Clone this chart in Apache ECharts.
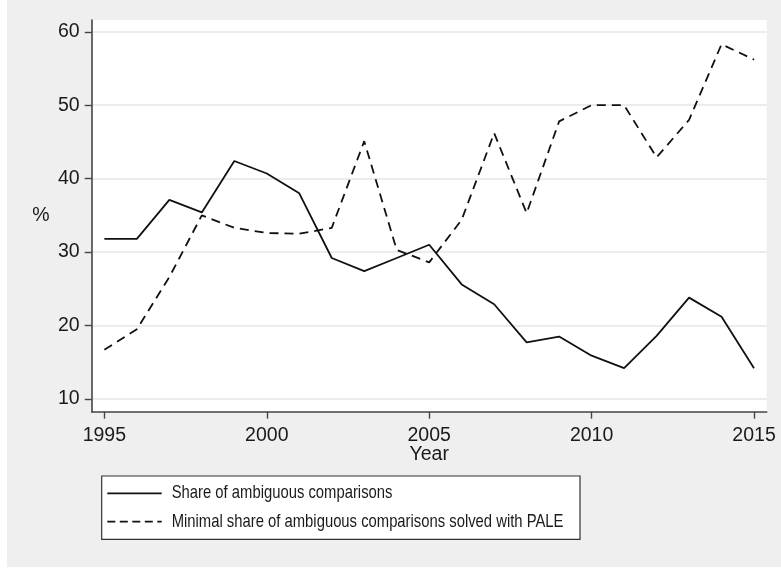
<!DOCTYPE html>
<html>
<head>
<meta charset="utf-8">
<script src="https://cdn.jsdelivr.net/npm/echarts@6/dist/echarts.min.js"></script>
<style>
  html, body { margin: 0; padding: 0; background: #fff; }
  #chart {
    width: 781px; height: 568px;
    background: linear-gradient(#efefef, #efefef) 7px 0 / 774px 567px no-repeat, #fff;
  }
</style>
</head>
<body>
<div id="chart"></div>
<script>
// Survey years
const years = [1995, 1996, 1997, 1998, 1999, 2000, 2001, 2002, 2003, 2004, 2005,
               2006, 2007, 2008, 2009, 2010, 2011, 2012, 2013, 2014, 2015];

// Share of ambiguous comparisons (%)
const shareAmbiguous = [31.8, 31.8, 37.1, 35.4, 42.4, 40.7, 38.0, 29.2, 27.4, 29.2, 31.0,
                        25.6, 22.9, 17.7, 18.5, 15.9, 14.2, 18.6, 23.8, 21.2, 14.2];

// Minimal share of ambiguous comparisons solved with PALE (%)
const shareSolvedPALE = [16.7, 19.5, 26.6, 35.0, 33.3, 32.6, 32.5, 33.3, 45.1, 30.3, 28.6,
                         34.4, 46.2, 35.3, 47.8, 50.0, 50.0, 42.9, 48.0, 58.3, 56.2];

// Tick labels
const xTicks = [1995, 2000, 2005, 2010, 2015];
const yTicks = [10, 20, 30, 40, 50, 60];

const seriesNames = [
  'Share of ambiguous comparisons',
  'Minimal share of ambiguous comparisons solved with PALE'
];

const pairs = vals => years.map((y, i) => [y, vals[i]]);

const lineColor = '#111';
const axisColor = '#444';
const textColor = '#1a1a1a';
const axisFont = { fontFamily: 'Liberation Sans, Arial, sans-serif', fontSize: 19.5, color: textColor };
const plotDash = [9, 6];
const keyDash = [8, 4.5];

// Legend key: boxed, two rows, narrow type face (condensed horizontally)
const keyFont = '18.5px "Liberation Sans", Arial, sans-serif';
const keyScale = 0.801;
function keyRow(y, name, dash) {
  return [
    {
      type: 'line',
      shape: { x1: 5.6, y1: y, x2: 60, y2: y },
      style: { stroke: lineColor, lineWidth: 1.8, lineDash: dash }
    },
    {
      type: 'text',
      x: 70, y: y, scaleX: keyScale,
      style: { text: name, font: keyFont, fill: textColor, verticalAlign: 'middle', align: 'left' }
    }
  ];
}

const chart = echarts.init(document.getElementById('chart'), null, { renderer: 'canvas' });

chart.setOption({
  backgroundColor: 'transparent',
  animation: false,
  grid: {
    left: 91.7, top: 20, right: 14.3, bottom: 156.3,
    show: true, backgroundColor: '#fff', borderWidth: 0
  },
  xAxis: {
    type: 'value',
    min: 1994.61, max: 2015.39,
    name: 'Year',
    nameLocation: 'middle',
    nameGap: 33,
    nameMoveOverlap: false,
    nameTextStyle: axisFont,
    axisLine: { show: true, onZero: false, lineStyle: { color: axisColor, width: 1.6 } },
    axisTick: { show: true, length: 7, customValues: xTicks, lineStyle: { color: axisColor, width: 1.4 } },
    axisLabel: Object.assign({ customValues: xTicks, margin: 14, formatter: v => String(v) }, axisFont),
    splitLine: { show: false }
  },
  yAxis: {
    type: 'value',
    min: 8.27, max: 61.6,
    name: '%',
    nameLocation: 'middle',
    nameRotate: 0,
    nameGap: 42,
    nameMoveOverlap: false,
    nameTextStyle: axisFont,
    axisLine: { show: true, onZero: false, lineStyle: { color: axisColor, width: 1.6 } },
    axisTick: { show: true, length: 7, customValues: yTicks, lineStyle: { color: axisColor, width: 1.4 } },
    axisLabel: Object.assign({ customValues: yTicks, margin: 12, formatter: v => String(v) }, axisFont),
    splitLine: { show: true, lineStyle: { color: '#e6e6e6', width: 1.5 } }
  },
  graphic: [
    {
      type: 'group',
      x: 101.7, y: 476,
      children: [
        {
          type: 'rect',
          shape: { x: 0, y: 0, width: 478.3, height: 63.3 },
          style: { fill: '#fff', stroke: '#333', lineWidth: 1.2 }
        },
        ...keyRow(17.3, seriesNames[0], null),
        ...keyRow(45.7, seriesNames[1], keyDash)
      ]
    }
  ],
  series: [
    {
      name: seriesNames[0],
      type: 'line',
      data: pairs(shareAmbiguous),
      symbol: 'none',
      lineStyle: { color: lineColor, width: 1.8, type: 'solid' }
    },
    {
      name: seriesNames[1],
      type: 'line',
      data: pairs(shareSolvedPALE),
      symbol: 'none',
      lineStyle: { color: lineColor, width: 1.8, type: plotDash }
    }
  ]
});
</script>
</body>
</html>
